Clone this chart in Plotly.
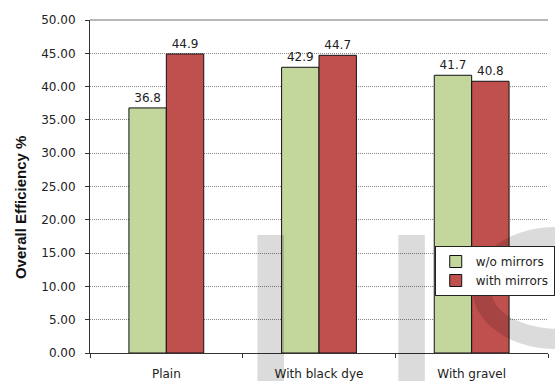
import numpy as np
import plotly.graph_objects as go

categories = ["Plain", "With black dye", "With gravel"]
wo_mirrors = [36.8, 42.9, 41.7]
with_mirrors = [44.9, 44.7, 40.8]
series_names = ["w/o mirrors", "with mirrors"]
y_title = "Overall Efficiency %"

W, H = 555, 381
L, R, T, B = 90, 0, 20, 28
PW, PH = W - L - R, H - T - B

def px(x):
    return (x - L) / PW

def py(y):
    return (H - B - y) / PH

FONT = "DejaVu Sans, Verdana, sans-serif"

fig = go.Figure()
fig.add_trace(go.Bar(
    x=categories, y=wo_mirrors, name=series_names[0],
    marker=dict(color="#c3d69b", line=dict(color="#111111", width=1)),
    text=[f"{v:.1f}" for v in wo_mirrors], textposition="outside",
    textfont=dict(size=12, color="#222222", family=FONT), cliponaxis=False,
))
fig.add_trace(go.Bar(
    x=categories, y=with_mirrors, name=series_names[1],
    marker=dict(color="#c0504d", line=dict(color="#111111", width=1)),
    text=[f"{v:.1f}" for v in with_mirrors], textposition="outside",
    textfont=dict(size=12, color="#222222", family=FONT), cliponaxis=False,
))

# watermark-like translucent shapes
WM = "rgba(0,0,0,0.14)"
shapes = []
for x0, x1 in [(260, 287), (403, 430)]:
    shapes.append(dict(type="rect", xref="paper", yref="paper",
                       x0=px(x0), x1=px(x1), y0=py(381), y1=py(235),
                       fillcolor=WM, line=dict(width=0), layer="above"))

def ellipse(cx, cy, a, b, reverse=False):
    ang = np.linspace(0, 2 * np.pi, 73)
    if reverse:
        ang = ang[::-1]
    pts = [(cx + a * np.cos(t), cy + b * np.sin(t)) for t in ang]
    return "M " + " L ".join(f"{px(x):.4f},{py(y):.4f}" for x, y in pts) + " Z"

path = ellipse(562, 288, 84, 61) + " " + ellipse(568, 292, 70, 37, reverse=True)
shapes.append(dict(type="path", xref="paper", yref="paper", path=path,
                   fillcolor=WM, line=dict(width=0), layer="above"))
shapes.append(dict(type="line", xref="paper", yref="paper", x0=0, x1=1, y0=1, y1=1,
                   line=dict(color="#a0a0a0", width=1.5)))

fig.update_layout(
    width=W, height=H,
    margin=dict(l=L, r=R, t=T, b=B),
    paper_bgcolor="white", plot_bgcolor="white",
    font=dict(family=FONT, size=12, color="#222222"),
    barmode="group", bargap=0.51, bargroupgap=0,
    showlegend=True,
    legend=dict(x=px(440), y=py(246), xanchor="left", yanchor="top",
                bgcolor="white", bordercolor="#222222", borderwidth=1,
                font=dict(size=12, family=FONT), tracegroupgap=4, itemwidth=30),
    shapes=shapes,
    annotations=[dict(text=f"<b>{y_title}</b>", textangle=-90, xref="paper", yref="paper",
                      x=px(20), y=py(208), xanchor="center", yanchor="middle",
                      showarrow=False,
                      font=dict(size=15, family="Liberation Sans, Arial, sans-serif", color="#111111"))],
)
fig.update_xaxes(
    showline=True, linecolor="#333333", linewidth=1,
    ticks="outside", ticklen=4, tickcolor="#333333", tickson="boundaries",
    showgrid=False, tickfont=dict(size=12), ticklabelstandoff=10,
)
fig.update_yaxes(
    range=[0, 50], dtick=5, tickformat=".2f",
    showline=True, linecolor="#333333", linewidth=1,
    ticks="outside", ticklen=4, tickcolor="#333333",
    showgrid=True, gridcolor="#888888", griddash="1px,1px", gridwidth=1,
    tickfont=dict(size=12), ticklabelstandoff=7,
)

fig.write_html("out.html")
